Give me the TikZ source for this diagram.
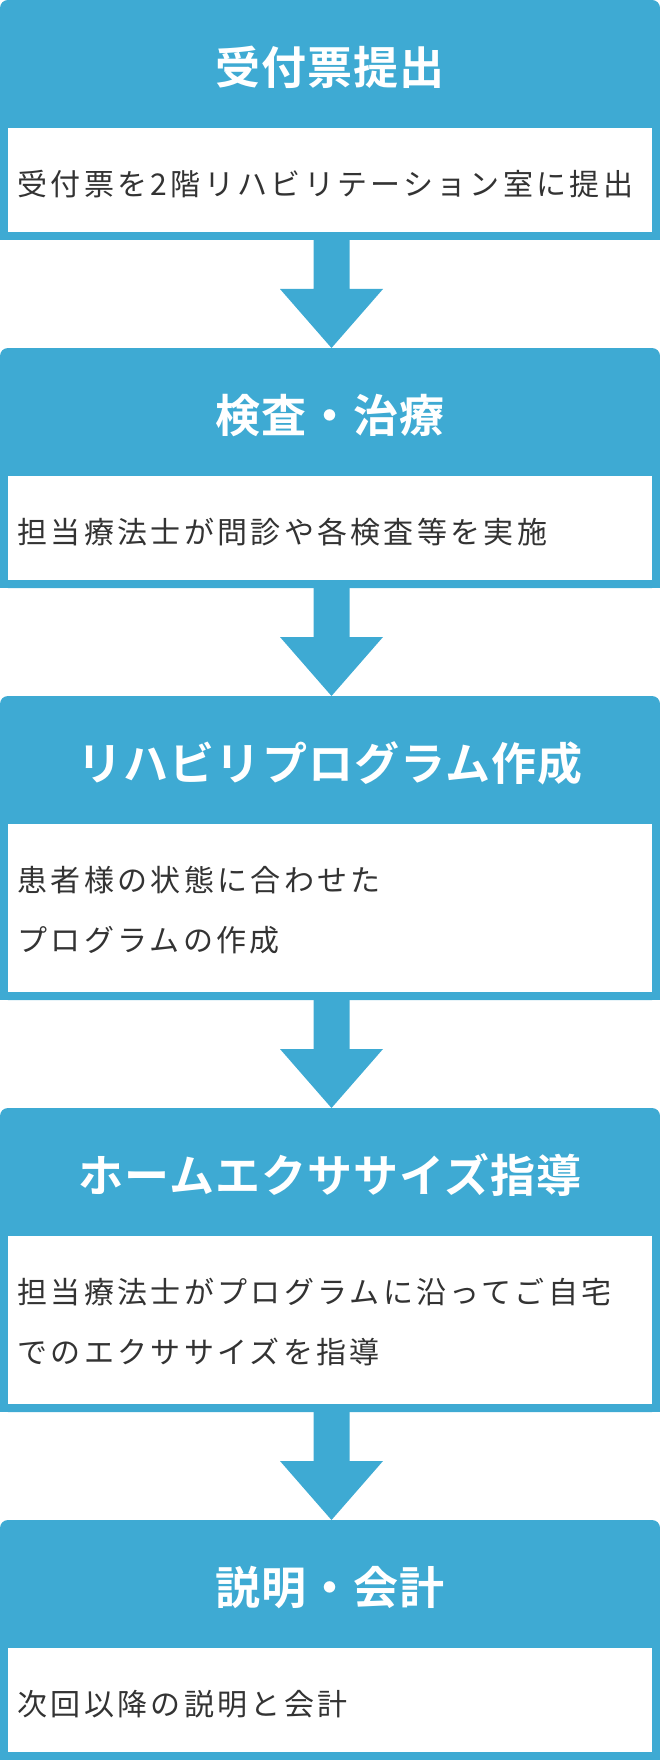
\documentclass[tikz,border=0pt]{standalone}
\usepackage{fontspec}
\newfontfamily\jpbody{Noto Sans CJK JP}[LetterSpace=11]
\newfontfamily\jptitle{Noto Sans CJK JP Bold}[LetterSpace=2.5]
\usetikzlibrary{calc}
\definecolor{stepblue}{HTML}{3EAAD3}
\definecolor{bodytext}{HTML}{333333}
\tikzset{
  steptitle/.style={text=white, inner sep=0pt, font=\jptitle\fontsize{45}{45}\selectfont},
  stepbody/.style={text=bodytext, inner sep=0pt, anchor=west, font=\jpbody\fontsize{30}{30}\selectfont},
  stepframe/.style={fill=stepblue},
  flowarrow/.style={fill=stepblue},
}
% #1 name, #2 top, #3 height of white area
\newcommand\drawframe[3]{%
  \fill[stepframe, rounded corners=8pt] (0,#2) rectangle (660,#2+136+#3);
  \fill[stepframe] (0,#2+20) rectangle (660,#2+136+#3);
  \fill[white] (8,#2+128) rectangle (652,#2+128+#3);
  \coordinate (#1top) at (331.5,#2);
  \coordinate (#1bot) at (331.5,#2+136+#3);
}
\newcommand\drawflow[2]{%
  \fill[flowarrow] ($(#1bot)+(-18,-1)$) -- ($(#1bot)+(18,-1)$) -- ($(#1bot)+(18,49)$)
    -- ($(#1bot)+(51.5,49)$) -- (#2top) -- ($(#1bot)+(-51.5,49)$) -- ($(#1bot)+(-18,49)$) -- cycle;
}
\begin{document}
\begin{tikzpicture}[x=1pt,y=-1pt]
\useasboundingbox (0,0) rectangle (660,1760);

\drawframe{boxA}{0}{104}
\drawframe{boxB}{348}{104}
\drawframe{boxC}{696}{168}
\drawframe{boxD}{1108}{168}
\drawframe{boxE}{1520}{104}

\drawflow{boxA}{boxB}
\drawflow{boxB}{boxC}
\drawflow{boxC}{boxD}
\drawflow{boxD}{boxE}

\node[steptitle] (titleA) at (330,67) {受付票提出};
\node[stepbody] (bodyA) at (17.5,184.5) {受付票を2階リハビリテーション室に提出};

\node[steptitle] (titleB) at (330,415) {検査・治療};
\node[stepbody] (bodyB) at (17.5,532.5) {担当療法士が問診や各検査等を実施};

\node[steptitle] (titleC) at (330,763) {リハビリプログラム作成};
\node[stepbody] (bodyC1) at (17.5,880.5) {患者様の状態に合わせた};
\node[stepbody] (bodyC2) at (17.5,940) {プログラムの作成};

\node[steptitle] (titleD) at (330,1175) {ホームエクササイズ指導};
\node[stepbody] (bodyD1) at (17.5,1292.5) {担当療法士がプログラムに沿ってご自宅};
\node[stepbody] (bodyD2) at (17.5,1352) {でのエクササイズを指導};

\node[steptitle] (titleE) at (330,1587) {説明・会計};
\node[stepbody] (bodyE) at (17.5,1704.5) {次回以降の説明と会計};
\end{tikzpicture}
\end{document}
